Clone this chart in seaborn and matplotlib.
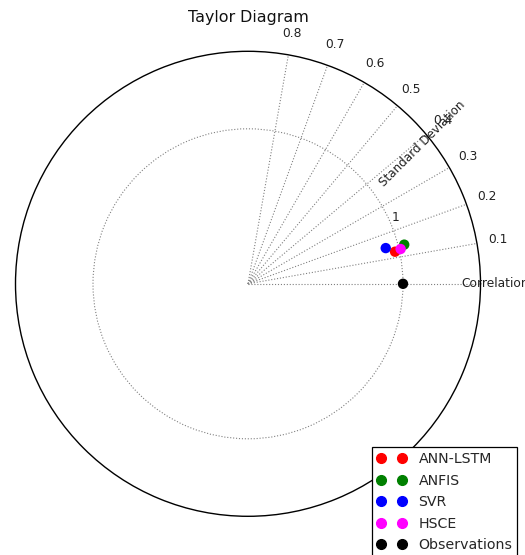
import numpy as np
import pandas as pd
import matplotlib
matplotlib.use("Agg")
import matplotlib.pyplot as plt
import seaborn as sns
from matplotlib.lines import Line2D

# ---- data ----
models = ["ANN-LSTM", "ANFIS", "SVR", "HSCE", "Observations"]
colors = ["red", "green", "blue", "magenta", "black"]
correlations = [0.977, 0.970, 0.968, 0.975, 1.0]
std_devs = [0.971, 1.039, 0.918, 1.010, 1.0]

corr_tick_angles_deg = [0, 10, 20, 30, 40, 50, 60, 70, 80]
corr_tick_labels = ["Correlation", "0.1", "0.2", "0.3", "0.4", "0.5", "0.6", "0.7", "0.8"]
std_ticks = [1.0]
std_tick_labels = ["1"]
std_max = 1.5

df = pd.DataFrame({
    "model": models,
    "theta": np.arccos(np.clip(correlations, -1, 1)),
    "std": std_devs,
})
palette = dict(zip(models, colors))

sns.set_style("white")
plt.rcParams["font.family"] = ["DejaVu Sans"]

fig = plt.figure(figsize=(5.25, 5.55), dpi=100)
W, H = 525.0, 555.0
cx, cy, R = 248.0, 283.8, 232.5
ax = fig.add_axes([(cx - R) / W, (H - cy - R) / H, 2 * R / W, 2 * R / H],
                  projection="polar")

sns.scatterplot(data=df, x="theta", y="std", hue="model", palette=palette,
                s=56, linewidth=0, legend=False, ax=ax, zorder=5)
ax.set_xlabel("")
ax.set_ylabel("")
ax.set_ylim(0, std_max)

ax.set_thetagrids(corr_tick_angles_deg, labels=[""] * len(corr_tick_angles_deg))
ax.set_rgrids(std_ticks, labels=std_tick_labels, angle=22.5)
ax.tick_params(axis="y", labelsize=8.8, colors="#222222")
ax.grid(True, linestyle=":", color="0.5", linewidth=0.8)
ax.spines["polar"].set_color("black")
ax.spines["polar"].set_linewidth(1.0)

for ang, lab in zip(corr_tick_angles_deg, corr_tick_labels):
    r_lab = 1.595 if ang == 0 else 1.64
    ax.text(np.deg2rad(ang), r_lab, lab, ha="center", va="center",
            fontsize=8.8, color="#222222")

ax.text(np.deg2rad(38.8), 1.445, "Standard Deviation", rotation=45,
        ha="center", va="center", fontsize=8.6, color="#222222")

fig.text(cx / W, 1 - 17.5 / H, "Taylor Diagram", ha="center", va="center",
         fontsize=11.4, color="#111111")

handles = [Line2D([], [], color=c, marker="o", linestyle="None", markersize=7.0)
           for c in colors]
leg = ax.legend(handles, models, loc="upper left",
                bbox_to_anchor=(371.7 / W, 1 - 447.3 / H),
                bbox_transform=fig.transFigure, numpoints=2, fontsize=10.2,
                frameon=True, fancybox=False, edgecolor="black", framealpha=1,
                borderpad=0.35, labelspacing=0.53, handlelength=2.1,
                handletextpad=0.85, borderaxespad=0)
leg.get_frame().set_linewidth(0.9)

fig.savefig("out.png", dpi=100)
